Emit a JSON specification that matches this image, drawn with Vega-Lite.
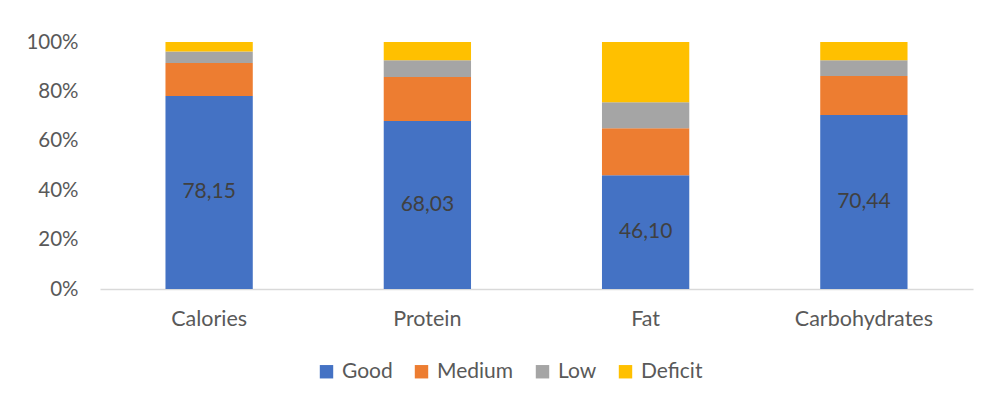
{
  "$schema": "https://vega.github.io/schema/vega-lite/v6.json",
  "width": 873,
  "height": 247,
  "autosize": "none",
  "padding": {"left": 100, "top": 42, "right": 15, "bottom": 113},
  "background": "white",
  "config": {"view": {"stroke": null}, "font": "Lato"},
  "data": {
    "values": [
      {"food": "Calories", "level": "Good", "rank": 1, "value": 78.15, "label": "78,15"},
      {"food": "Calories", "level": "Medium", "rank": 2, "value": 13.35},
      {"food": "Calories", "level": "Low", "rank": 3, "value": 4.7},
      {"food": "Calories", "level": "Deficit", "rank": 4, "value": 3.8},
      {"food": "Protein", "level": "Good", "rank": 1, "value": 68.03, "label": "68,03"},
      {"food": "Protein", "level": "Medium", "rank": 2, "value": 17.8},
      {"food": "Protein", "level": "Low", "rank": 3, "value": 6.77},
      {"food": "Protein", "level": "Deficit", "rank": 4, "value": 7.4},
      {"food": "Fat", "level": "Good", "rank": 1, "value": 46.1, "label": "46,10"},
      {"food": "Fat", "level": "Medium", "rank": 2, "value": 19.0},
      {"food": "Fat", "level": "Low", "rank": 3, "value": 10.5},
      {"food": "Fat", "level": "Deficit", "rank": 4, "value": 24.4},
      {"food": "Carbohydrates", "level": "Good", "rank": 1, "value": 70.44, "label": "70,44"},
      {"food": "Carbohydrates", "level": "Medium", "rank": 2, "value": 15.8},
      {"food": "Carbohydrates", "level": "Low", "rank": 3, "value": 6.36},
      {"food": "Carbohydrates", "level": "Deficit", "rank": 4, "value": 7.4}
    ]
  },
  "layer": [
    {
      "mark": {"type": "bar"},
      "encoding": {
        "x": {
          "field": "food", "type": "nominal",
          "sort": ["Calories", "Protein", "Fat", "Carbohydrates"],
          "scale": {"paddingInner": 0.6, "paddingOuter": 0.3},
          "axis": {"title": null, "labelAngle": 0, "labelFontSize": 21.5, "labelColor": "#595959", "domainColor": "#d9d9d9", "domainWidth": 1.5, "ticks": false, "labelPadding": 19}
        },
        "y": {
          "field": "value", "type": "quantitative", "stack": "zero",
          "scale": {"domain": [0, 100], "nice": false},
          "axis": {"title": null, "values": [0, 20, 40, 60, 80, 100], "labelExpr": "datum.value + '%'", "grid": false, "domain": false, "ticks": false, "labelPadding": 22, "labelFontSize": 20.5, "labelColor": "#595959"}
        },
        "color": {
          "field": "level", "type": "nominal",
          "scale": {"domain": ["Good", "Medium", "Low", "Deficit"], "range": ["#4472C4", "#ED7D31", "#A5A5A5", "#FFC000"]},
          "legend": {"title": null, "orient": "none", "legendX": 216, "legendY": 319, "direction": "horizontal", "symbolType": "square", "symbolSize": 180, "symbolStrokeWidth": 0, "labelFontSize": 21, "labelColor": "#595959", "labelOffset": 5, "columnPadding": 18}
        },
        "order": {"field": "rank", "type": "quantitative"}
      }
    },
    {
      "transform": [{"filter": "datum.label != null"}, {"calculate": "datum.value / 2", "as": "mid"}],
      "mark": {"type": "text", "fontSize": 21, "color": "#404040"},
      "encoding": {
        "x": {"field": "food", "type": "nominal", "sort": ["Calories", "Protein", "Fat", "Carbohydrates"]},
        "y": {"field": "mid", "type": "quantitative"},
        "text": {"field": "label"}
      }
    }
  ]
}
